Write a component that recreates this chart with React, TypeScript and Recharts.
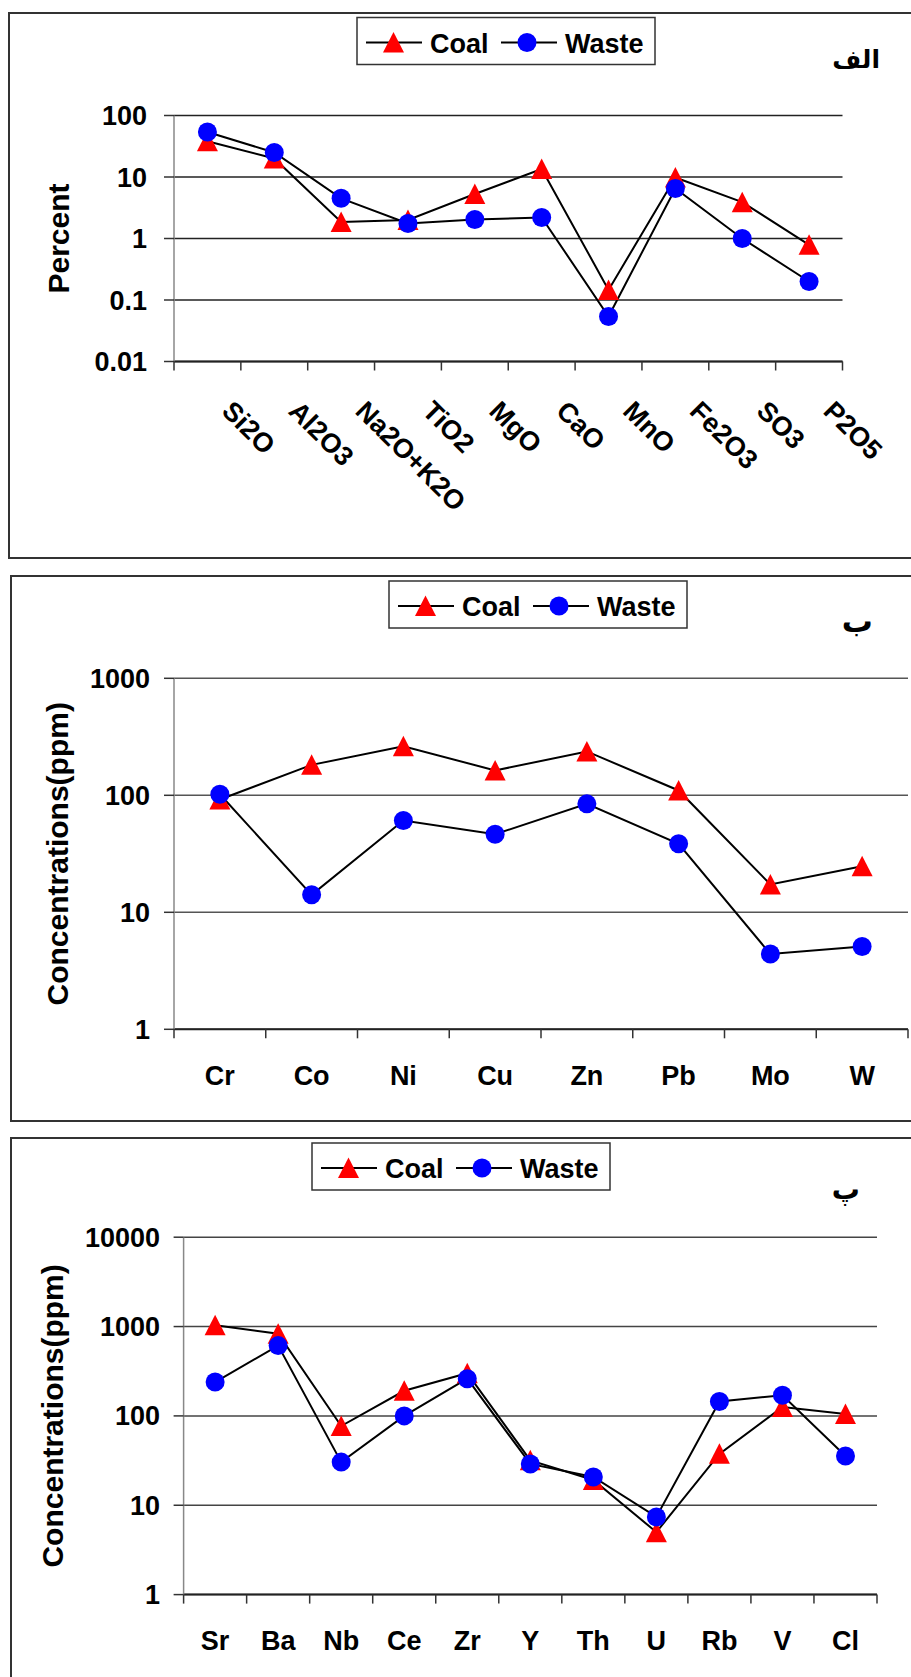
import React from 'react';
import { LineChart, Line, XAxis, YAxis, CartesianGrid } from 'recharts';

// ---------- Data ----------
const oxides = ['Si2O', 'Al2O3', 'Na2O+K2O', 'TiO2', 'MgO', 'CaO', 'MnO', 'Fe2O3', 'SO3', 'P2O5'];
const oxideCoal = [38, 20, 1.85, 2.0, 5.3, 13.5, 0.146, 9.8, 3.9, 0.79];
const oxideWaste = [54, 25, 4.5, 1.75, 2.03, 2.2, 0.054, 6.5, 1.0, 0.2];
const oxideTicks = [0.01, 0.1, 1, 10, 100];

const metals = ['Cr', 'Co', 'Ni', 'Cu', 'Zn', 'Pb', 'Mo', 'W'];
const metalCoal = [92, 182, 263, 163, 237, 110, 17.3, 24.7];
const metalWaste = [102, 14.1, 60.8, 46.5, 84.5, 38.5, 4.4, 5.1];
const metalTicks = [1, 10, 100, 1000];

const traces = ['Sr', 'Ba', 'Nb', 'Ce', 'Zr', 'Y', 'Th', 'U', 'Rb', 'V', 'Cl'];
const traceCoal = [1033, 830, 77, 191, 300, 31.8, 19.2, 5.0, 37.6, 126, 105];
const traceWaste = [239, 612, 30.4, 100, 261, 29, 20.7, 7.4, 145, 170, 35.5];
const traceTicks = [1, 10, 100, 1000, 10000];

const seriesNames = ['Coal', 'Waste'];
const panelTags = ['الف', 'ب', 'پ'];
const yTitles = ['Percent', 'Concentrations(ppm)', 'Concentrations(ppm)'];

// ---------- Styles ----------
const FONT = "'Liberation Sans', Arial, Helvetica, sans-serif";
const AR_FONT = "'DejaVu Sans', sans-serif";
const W = 911;
const YW = 120;

const triangleDot = (p: any) => {
  const { cx, cy, index } = p;
  if (cx == null || cy == null) return <g key={`t${index}`} />;
  return (
    <polygon
      key={`t${index}`}
      points={`${cx},${cy - 10.5} ${cx - 10.5},${cy + 10} ${cx + 10.5},${cy + 10}`}
      fill="#ff0000"
    />
  );
};

const circleDot = (p: any) => {
  const { cx, cy, index } = p;
  if (cx == null || cy == null) return <g key={`c${index}`} />;
  return <circle key={`c${index}`} cx={cx} cy={cy} r={9.5} fill="#0000ff" />;
};

type PanelProps = {
  chartTop: number;
  height: number;
  plotLeft: number;
  plotRight: number;
  plotTop: number;
  plotBottom: number;
  categories: string[];
  coal: number[];
  waste: number[];
  ticks: number[];
  yTitle: string;
  yTitleX: number;
  tickMargin: number;
  rotated: boolean;
  labelDy: number;
  gridColor: string;
};

function Panel(props: PanelProps) {
  const {
    chartTop, height, plotLeft, plotRight, plotTop, plotBottom, categories, coal, waste,
    ticks, yTitle, yTitleX, tickMargin, rotated, labelDy, gridColor,
  } = props;
  const data = categories.map((c, i) => ({ name: c, coal: coal[i], waste: waste[i] }));
  const n = categories.length;
  const band = (plotRight - plotLeft) / n;
  const axisY = plotBottom - chartTop;
  const top = plotTop - chartTop;
  const xAxisHeight = height - axisY;
  const midY = (top + axisY) / 2;

  const XTick = (tp: any) => {
    const { x, payload, index } = tp;
    const lx = x - band / 2;
    const rx = x + band / 2;
    const els: any[] = [
      <line key="l" x1={lx} x2={lx} y1={axisY} y2={axisY + 9} stroke="#333" strokeWidth={1.5} />,
    ];
    if (index === n - 1) {
      els.push(<line key="r" x1={rx} x2={rx} y1={axisY} y2={axisY + 9} stroke="#333" strokeWidth={1.5} />);
    }
    if (rotated) {
      const tx = x + 13;
      const ty = axisY + 51;
      els.push(
        <text key="t" x={tx} y={ty} transform={`rotate(45 ${tx} ${ty})`} textAnchor="start"
          fontFamily={FONT} fontSize={27} fontWeight="bold" fill="#000">
          {payload.value}
        </text>
      );
    } else {
      els.push(
        <text key="t" x={x} y={axisY + labelDy} textAnchor="middle"
          fontFamily={FONT} fontSize={27} fontWeight="bold" fill="#000">
          {payload.value}
        </text>
      );
    }
    return <g>{els}</g>;
  };

  const yLabel = () => (
    <text x={yTitleX} y={midY} transform={`rotate(-90 ${yTitleX} ${midY})`} textAnchor="middle"
      fontFamily={FONT} fontSize={30} fontWeight="bold" fill="#000">
      {yTitle}
    </text>
  );

  return (
    <div style={{ position: 'absolute', left: 0, top: chartTop, width: W, height }}>
      <LineChart
        width={W}
        height={height}
        data={data}
        margin={{ top, right: W - plotRight, left: plotLeft - YW, bottom: 0 }}
      >
        <CartesianGrid horizontal vertical={false} stroke={gridColor} strokeWidth={1.5} />
        <XAxis
          dataKey="name"
          type="category"
          interval={0}
          height={xAxisHeight}
          padding={{ left: band / 2, right: band / 2 }}
          tickLine={false}
          axisLine={{ stroke: '#222', strokeWidth: 2 }}
          tick={XTick}
        />
        <YAxis
          type="number"
          scale="log"
          domain={[ticks[0], ticks[ticks.length - 1]]}
          ticks={ticks}
          allowDataOverflow
          width={YW}
          tickSize={10}
          tickMargin={tickMargin}
          tickFormatter={(v: number) => String(v)}
          tick={{ fill: '#000', fontSize: 27, fontWeight: 'bold', fontFamily: FONT }}
          tickLine={{ stroke: '#333', strokeWidth: 1.5 }}
          axisLine={{ stroke: '#888', strokeWidth: 1.5 }}
          label={yLabel}
        />
        <Line dataKey="coal" name={seriesNames[0]} stroke="#000" strokeWidth={2} dot={triangleDot}
          activeDot={false} isAnimationActive={false} />
        <Line dataKey="waste" name={seriesNames[1]} stroke="#000" strokeWidth={2} dot={circleDot}
          activeDot={false} isAnimationActive={false} />
      </LineChart>
    </div>
  );
}

function LegendBox({ x, y }: { x: number; y: number }) {
  const cy = y + 25;
  return (
    <g>
      <rect x={x} y={y} width={298} height={47} fill="#fff" stroke="#333" strokeWidth={1.5} />
      <line x1={x + 9} x2={x + 65} y1={cy} y2={cy} stroke="#000" strokeWidth={2} />
      <polygon points={`${x + 36.5},${cy - 10.5} ${x + 26},${cy + 10} ${x + 47},${cy + 10}`} fill="#ff0000" />
      <text x={x + 73} y={y + 35} fontFamily={FONT} fontSize={27} fontWeight="bold" fill="#000">{seriesNames[0]}</text>
      <line x1={x + 144} x2={x + 200} y1={cy} y2={cy} stroke="#000" strokeWidth={2} />
      <circle cx={x + 170} cy={cy} r={9.5} fill="#0000ff" />
      <text x={x + 208} y={y + 35} fontFamily={FONT} fontSize={27} fontWeight="bold" fill="#000">{seriesNames[1]}</text>
    </g>
  );
}

export default function App() {
  const border = '2px solid #333';
  return (
    <div style={{ position: 'absolute', left: 0, top: 0, width: W, height: 1677, overflow: 'hidden', background: '#fff' }}>
      <div style={{ position: 'absolute', left: 8, top: 12, width: 940, height: 547, border, boxSizing: 'border-box' }} />
      <div style={{ position: 'absolute', left: 10, top: 575, width: 940, height: 547, border, boxSizing: 'border-box' }} />
      <div style={{ position: 'absolute', left: 10, top: 1137, width: 940, height: 600, border, boxSizing: 'border-box' }} />

      <Panel chartTop={0} height={560} plotLeft={174} plotRight={842.5} plotTop={115.5} plotBottom={361.5}
        categories={oxides} coal={oxideCoal} waste={oxideWaste} ticks={oxideTicks}
        yTitle={yTitles[0]} yTitleX={68.5} tickMargin={17} rotated labelDy={0} gridColor="#222" />
      <Panel chartTop={560} height={560} plotLeft={174} plotRight={908} plotTop={678.3} plotBottom={1029.3}
        categories={metals} coal={metalCoal} waste={metalWaste} ticks={metalTicks}
        yTitle={yTitles[1]} yTitleX={68.5} tickMargin={14} rotated={false} labelDy={56} gridColor="#555" />
      <Panel chartTop={1120} height={557} plotLeft={183.6} plotRight={877} plotTop={1237.2} plotBottom={1594.6}
        categories={traces} coal={traceCoal} waste={traceWaste} ticks={traceTicks}
        yTitle={yTitles[2]} yTitleX={63} tickMargin={13.6} rotated={false} labelDy={55} gridColor="#444" />

      <svg width={W} height={1677} style={{ position: 'absolute', left: 0, top: 0, pointerEvents: 'none' }}>
        <LegendBox x={357} y={17.5} />
        <LegendBox x={389} y={581} />
        <LegendBox x={312} y={1143} />
        <text x={880} y={68} textAnchor="end" fontFamily={AR_FONT} fontSize={25} fontWeight="bold" fill="#000">{panelTags[0]}</text>
        <text x={873} y={632} textAnchor="end" fontFamily={AR_FONT} fontSize={31} fontWeight="bold" fill="#000">{panelTags[1]}</text>
        <text x={860} y={1199} textAnchor="end" fontFamily={AR_FONT} fontSize={28} fontWeight="bold" fill="#000">{panelTags[2]}</text>
      </svg>
    </div>
  );
}
